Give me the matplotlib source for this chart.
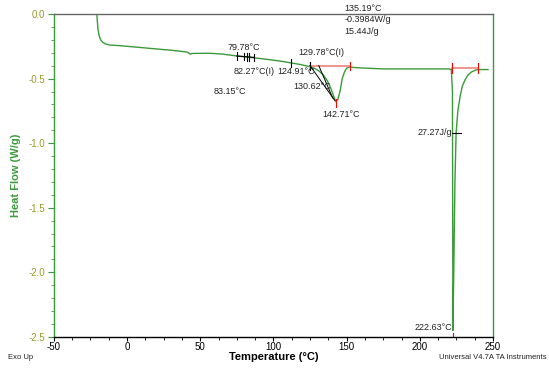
import matplotlib
matplotlib.use('Agg')
import matplotlib.pyplot as plt
from matplotlib.ticker import MultipleLocator

plt.rcParams['font.family'] = ['Liberation Sans', 'DejaVu Sans']

# Curva DSC
temp = [-20.6, -20.3, -19.8, -19, -18, -16.5, -15, -12, -5, 0, 10, 22.5, 30, 40.7, 42, 43, 45,
        56.6, 65, 75, 85, 95, 105, 111.3, 118, 125, 128, 131, 134, 137, 139, 141, 142.7, 144,
        145.5, 147, 148.5, 150, 152, 156, 165, 175, 190, 205, 215, 220, 221.5, 222.3, 222.63,
        223.2, 224, 224.8, 226, 227.5, 229, 230.9, 233, 235.5, 238, 239.8, 243, 246.6]
heat_flow = [0, -0.05, -0.12, -0.17, -0.2, -0.22, -0.23, -0.24, -0.245, -0.25, -0.26, -0.273,
             -0.28, -0.294, -0.3, -0.31, -0.305, -0.304, -0.31, -0.325, -0.337, -0.35, -0.365,
             -0.377, -0.39, -0.408, -0.42, -0.44, -0.47, -0.52, -0.57, -0.63, -0.68, -0.66,
             -0.6, -0.5, -0.45, -0.42, -0.41, -0.415, -0.42, -0.425, -0.425, -0.425, -0.425,
             -0.425, -0.43, -0.6, -2.45, -2.0, -1.3, -0.92, -0.75, -0.64, -0.56, -0.51, -0.47,
             -0.447, -0.435, -0.43, -0.43, -0.43]

# Transicion vitrea
tg_marks = [75, 79.78, 82.27, 83.15, 87]
tg_hf = [-0.325, -0.329, -0.331, -0.332, -0.336]

# Pico 1
p1_onset = 124.91
p1_base = [125, 152]
p1_base_hf = -0.405
p1_peak = 142.71
p1_peak_hf = -0.68

# Pico 2
p2_base = [222.3, 240]
p2_base_hf = -0.42
p2_peak = 222.63
p2_peak_hf = -2.45
p2_half = [224.8, -0.92]

green = '#3a9a3a'

fig = plt.figure(figsize=(5.49, 3.69), dpi=100)
ax = fig.add_axes([0.098, 0.087, 0.8, 0.875])

ax.plot(temp, heat_flow, color=green, lw=1.0)

# marcas Tg
for t, h in zip(tg_marks, tg_hf):
    ax.plot([t, t], [h - 0.03, h + 0.03], color='black', lw=0.8)
ax.plot([tg_marks[0], tg_marks[-1]], [tg_hf[0], tg_hf[-1]], color='black', lw=0.8)

# pico 1
ax.plot(p1_base, [p1_base_hf, p1_base_hf], color='#f08080', lw=1.2)
for t in p1_base:
    ax.plot([t, t], [p1_base_hf - 0.03, p1_base_hf + 0.03], color='red', lw=0.8)
ax.plot([p1_onset - 13, p1_onset - 13], [-0.35, -0.41], color='black', lw=0.8)
ax.plot([p1_onset, p1_onset], [-0.375, -0.435], color='black', lw=0.8)
ax.plot([125, 142], [-0.40, -0.67], color='black', lw=0.7)
ax.plot([131, 140.5], [-0.40, -0.65], color='black', lw=0.7)
ax.plot([p1_peak, p1_peak], [p1_peak_hf - 0.04, p1_peak_hf + 0.02], color='red', lw=0.8)

# pico 2
ax.plot(p2_base, [p2_base_hf, p2_base_hf], color='#f08080', lw=1.2)
for t in p2_base:
    ax.plot([t, t], [p2_base_hf - 0.04, p2_base_hf + 0.04], color='red', lw=0.8)
ax.plot([p2_peak, p2_peak], [p2_peak_hf - 0.02, -2.5], color='red', lw=0.8)
ax.plot([p2_half[0] - 3, p2_half[0] + 3], [p2_half[1], p2_half[1]], color='black', lw=0.8)

fs = 6.5
tc = '#222222'
ax.text(79.78, -0.258, '79.78°C', fontsize=fs, color=tc, ha='center', va='center')
ax.text(87, -0.445, '82.27°C(I)', fontsize=fs, color=tc, ha='center', va='center')
ax.text(70.5, -0.6, '83.15°C', fontsize=fs, color=tc, ha='center', va='center')
ax.text(115.5, -0.448, '124.91°C', fontsize=fs, color=tc, ha='center', va='center')
ax.text(132.5, -0.295, '129.78°C(I)', fontsize=fs, color=tc, ha='center', va='center')
ax.text(126.5, -0.565, '130.62°C', fontsize=fs, color=tc, ha='center', va='center')
ax.text(146.5, -0.775, '142.71°C', fontsize=fs, color=tc, ha='center', va='center')
ax.text(148.5, 0.045, '135.19°C', fontsize=fs, color=tc, ha='left', va='center')
ax.text(148.5, -0.045, '-0.3984W/g', fontsize=fs, color=tc, ha='left', va='center')
ax.text(148.5, -0.135, '15.44J/g', fontsize=fs, color=tc, ha='left', va='center')
ax.text(221.8, -0.92, '27.27J/g', fontsize=fs, color=tc, ha='right', va='center')
ax.text(222.0, -2.43, '222.63°C', fontsize=fs, color=tc, ha='right', va='center')

ax.set_xlim(-50, 250)
ax.set_ylim(-2.5, 0.0)
ax.xaxis.set_major_locator(MultipleLocator(50))
ax.xaxis.set_minor_locator(MultipleLocator(12.5))
ax.xaxis.set_major_formatter(plt.FuncFormatter(lambda v, p: f'{v:.0f}'))
ax.yaxis.set_major_locator(MultipleLocator(0.5))
ax.yaxis.set_minor_locator(MultipleLocator(0.1))
ax.yaxis.set_major_formatter(plt.FuncFormatter(lambda v, p: f'{v:.1f}'))

ax.tick_params(axis='x', which='both', direction='out', labelsize=7, colors='black', pad=1)
ax.tick_params(axis='x', which='major', length=3)
ax.tick_params(axis='x', which='minor', length=2)
ax.tick_params(axis='y', which='both', direction='out', labelsize=7, colors=green,
               labelcolor='#9a9a2a', pad=2)
ax.tick_params(axis='y', which='major', length=4)
ax.tick_params(axis='y', which='minor', length=2.5)

ax.spines['left'].set_color(green)
ax.spines['right'].set_color(green)
ax.spines['top'].set_color('#666666')
ax.spines['bottom'].set_color('black')
for s in ax.spines.values():
    s.set_linewidth(1.0)

ax.set_xlabel('Temperature (°C)', fontsize=8, fontweight='bold', labelpad=0)
ax.set_ylabel('Heat Flow (W/g)', fontsize=8, fontweight='bold', color=green, labelpad=6)

fig.text(0.015, 0.03, 'Exo Up', fontsize=5.5, color='#222222', ha='left', va='center')
fig.text(0.995, 0.03, 'Universal V4.7A TA Instruments', fontsize=5.5, color='#222222',
         ha='right', va='center')

plt.savefig('out.png', dpi=100)
